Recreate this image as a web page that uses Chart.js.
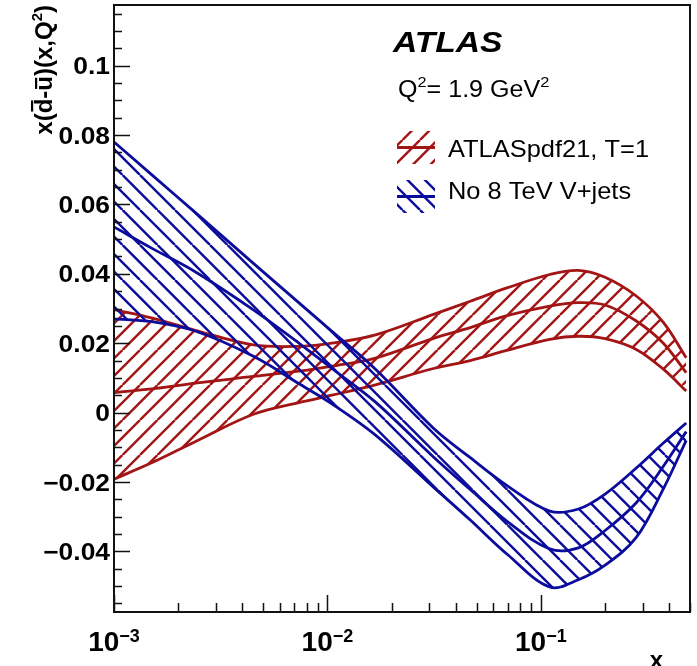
<!DOCTYPE html>
<html><head><meta charset="utf-8">
<script src="https://cdn.jsdelivr.net/npm/chart.js@4/dist/chart.umd.min.js"></script>
<style>html,body{margin:0;padding:0;background:#fff}#wrap{width:697px;height:666px;position:relative}canvas{display:block}</style>
</head><body><div id="wrap"><canvas id="c" width="697" height="666"></canvas></div>
<script>
// ---- data ----
const xValues   = [0.001, 0.0015, 0.0024, 0.0045, 0.0075, 0.0105, 0.0168, 0.0314, 0.0467, 0.07, 0.11, 0.15, 0.2, 0.28, 0.375, 0.48];
const redUpper   = [0.0297, 0.0273, 0.0237, 0.0195, 0.0191, 0.0200, 0.0224, 0.0283, 0.0321, 0.0360, 0.0398, 0.0410, 0.0390, 0.0336, 0.0260, 0.0158];
const redCentral = [0.0058, 0.0068, 0.0085, 0.0104, 0.0120, 0.0134, 0.0157, 0.0214, 0.0245, 0.0280, 0.0307, 0.0317, 0.0310, 0.0264, 0.0200, 0.0115];
const redLower   = [-0.0192, -0.0145, -0.0084, -0.0005, 0.0030, 0.0050, 0.0080, 0.0127, 0.0150, 0.0180, 0.0211, 0.0220, 0.0213, 0.0182, 0.0125, 0.0062];
const blueUpper   = [0.0780, 0.0686, 0.0577, 0.0430, 0.0312, 0.0234, 0.0125, -0.0045, -0.0130, -0.0212, -0.0284, -0.0278, -0.0235, -0.0160, -0.0088, -0.0030];
const blueCentral = [0.0535, 0.0474, 0.0406, 0.0296, 0.0196, 0.0127, 0.0030, -0.0128, -0.0222, -0.0315, -0.0393, -0.0390, -0.0340, -0.0260, -0.0155, -0.0055];
const blueLower   = [0.0270, 0.0262, 0.0235, 0.0162, 0.0080, 0.0025, -0.0065, -0.0215, -0.0310, -0.0410, -0.0503, -0.0482, -0.0440, -0.0360, -0.0220, -0.0080];
const seriesNames = ['ATLASpdf21, T=1', 'No 8 TeV V+jets'];
const yTickValues = [-0.04, -0.02, 0, 0.02, 0.04, 0.06, 0.08, 0.1];
const yTickLabels = ['\u22120.04', '\u22120.02', '0', '0.02', '0.04', '0.06', '0.08', '0.1'];
const xTickValues = [0.001, 0.01, 0.1];
const xTickExponents = ['\u22123', '\u22122', '\u22121'];

// ---- styles ----
const RED = '#a31414', BLUE = '#0b0b9c';
const FONT = '"Liberation Sans", Arial, Helvetica, sans-serif';
const canvas = document.getElementById('c');
const mainCtx = canvas.getContext('2d');

function hatch(color, dir) {
  const s = 35, step = 17.5;
  const c = document.createElement('canvas'); c.width = s; c.height = s;
  const g = c.getContext('2d');
  g.strokeStyle = color; g.lineWidth = 2.4;
  g.beginPath();
  for (let k = -3; k <= 3; k++) {
    const o = k * step;
    if (dir > 0) { g.moveTo(o, s); g.lineTo(o + s, 0); }
    else { g.moveTo(o, 0); g.lineTo(o + s, s); }
  }
  g.stroke();
  return mainCtx.createPattern(c, 'repeat');
}
const redHatch = hatch(RED, 1), blueHatch = hatch(BLUE, -1);

const pts = ys => xValues.map((x, i) => ({x, y: ys[i]}));
const base = {pointRadius: 0, borderWidth: 2.8, tension: 0.35, fill: false};

function richWidth(ctx, parts) {
  let w = 0;
  for (const p of parts) { ctx.font = p.font; w += ctx.measureText(p.t).width; }
  return w;
}
function drawRich(ctx, parts, x, y) {
  let cx = x;
  for (const p of parts) {
    ctx.font = p.font;
    ctx.fillText(p.t, cx, y + (p.dy || 0));
    const w = ctx.measureText(p.t).width;
    if (p.bar) ctx.fillRect(cx + w * 0.12, y - p.barH, w * 0.76, 2.2);
    cx += w;
  }
}
function stretched(ctx, sx, x, y, fn) {
  ctx.save(); ctx.translate(x, y); ctx.scale(sx, 1); fn(); ctx.restore();
}

const overlay = {
  id: 'overlay',
  afterDraw(chart) {
    const {ctx, chartArea: a, scales: {x, y}} = chart;
    ctx.save();
    ctx.strokeStyle = '#111'; ctx.fillStyle = '#000';
    // ticks (inside)
    ctx.lineWidth = 1.5;
    ctx.beginPath();
    for (let k = -11; k <= 23; k++) {
      const v = k * 0.005, py = Math.round(y.getPixelForValue(v)) + 0.5;
      if (py < a.top || py > a.bottom) continue;
      const len = (k % 4 === 0) ? 16 : 8;
      ctx.moveTo(a.left, py); ctx.lineTo(a.left + len, py);
    }
    for (let e = -3; e <= -1; e++) {
      for (let m = 1; m <= 9; m++) {
        const v = m * Math.pow(10, e);
        if (v > x.max) continue;
        const px = Math.round(x.getPixelForValue(v)) + 0.5;
        const len = (m === 1) ? 17 : 9;
        ctx.moveTo(px, a.bottom); ctx.lineTo(px, a.bottom - len);
      }
    }
    ctx.stroke();
    // frame
    ctx.lineWidth = 2;
    ctx.strokeRect(a.left, a.top, a.right - a.left, a.bottom - a.top);

    // y tick labels
    ctx.font = 'bold 24px ' + FONT;
    ctx.textAlign = 'right'; ctx.textBaseline = 'alphabetic';
    yTickValues.forEach((v, i) => {
      stretched(ctx, 1.1, 110, y.getPixelForValue(v) + 8.6, () => ctx.fillText(yTickLabels[i], 0, 0));
    });
    // x tick labels
    ctx.textAlign = 'left';
    xTickValues.forEach((v, i) => {
      const parts = [{t: '10', font: 'bold 28px ' + FONT}, {t: xTickExponents[i], font: 'bold 18px ' + FONT, dy: -9}];
      const w = richWidth(ctx, parts);
      drawRich(ctx, parts, x.getPixelForValue(v) - w / 2, 651);
    });
    // axis titles
    ctx.font = 'bold 24px ' + FONT;
    ctx.textAlign = 'right';
    ctx.fillText('x', 663, 668);
    ctx.textAlign = 'left';
    const yt = [
      {t: 'x(', font: 'bold 24px ' + FONT},
      {t: 'd', font: 'bold 24px ' + FONT, bar: true, barH: 21},
      {t: '-', font: 'bold 24px ' + FONT},
      {t: 'u', font: 'bold 24px ' + FONT, bar: true, barH: 17},
      {t: ')(x,Q', font: 'bold 24px ' + FONT},
      {t: '2', font: 'bold 15px ' + FONT, dy: -10},
      {t: ')', font: 'bold 24px ' + FONT}
    ];
    const yw = richWidth(ctx, yt);
    ctx.save();
    ctx.translate(52, 5);
    ctx.rotate(-Math.PI / 2);
    drawRich(ctx, yt, -yw, 0);
    ctx.restore();

    // ATLAS label
    stretched(ctx, 1.12, 393, 52, () => { ctx.font = 'italic bold 30px ' + FONT; ctx.fillText('ATLAS', 0, 0); });
    stretched(ctx, 1.09, 398, 97, () => drawRich(ctx, [
      {t: 'Q', font: '23px ' + FONT},
      {t: '2', font: '15px ' + FONT, dy: -10},
      {t: '= 1.9 GeV', font: '23px ' + FONT},
      {t: '2', font: '15px ' + FONT, dy: -10}
    ], 0, 0));

    // legend
    const entries = [
      {name: seriesNames[0], pat: redHatch, col: RED, top: 131, base: 157},
      {name: seriesNames[1], pat: blueHatch, col: BLUE, top: 180, base: 199}
    ];
    for (const e of entries) {
      ctx.fillStyle = e.pat;
      ctx.fillRect(397, e.top, 38, 33);
      ctx.strokeStyle = e.col; ctx.lineWidth = 2.8;
      ctx.beginPath(); ctx.moveTo(397, e.top + 16.5); ctx.lineTo(435, e.top + 16.5); ctx.stroke();
      ctx.fillStyle = '#000';
      stretched(ctx, 1.06, 448, e.base, () => { ctx.font = '24px ' + FONT; ctx.fillText(e.name, 0, 0); });
    }
    ctx.restore();
  }
};

new Chart(canvas, {
  type: 'line',
  data: {
    datasets: [
      {...base, label: seriesNames[1] + ' upper', data: pts(blueUpper), borderColor: BLUE, fill: '+1', backgroundColor: blueHatch},
      {...base, label: seriesNames[1] + ' lower', data: pts(blueLower), borderColor: BLUE},
      {...base, label: seriesNames[1], data: pts(blueCentral), borderColor: BLUE},
      {...base, label: seriesNames[0] + ' upper', data: pts(redUpper), borderColor: RED, fill: '+1', backgroundColor: redHatch},
      {...base, label: seriesNames[0] + ' lower', data: pts(redLower), borderColor: RED},
      {...base, label: seriesNames[0], data: pts(redCentral), borderColor: RED}
    ]
  },
  options: {
    responsive: false, animation: false, devicePixelRatio: 1,
    layout: {padding: {left: 114, right: 7, top: 5, bottom: 54}},
    plugins: {legend: {display: false}, tooltip: {enabled: false}},
    scales: {
      x: {type: 'logarithmic', min: 0.001, max: 0.5, display: false},
      y: {type: 'linear', min: -0.0575, max: 0.1175, display: false}
    }
  },
  plugins: [overlay]
});
</script></body></html>
